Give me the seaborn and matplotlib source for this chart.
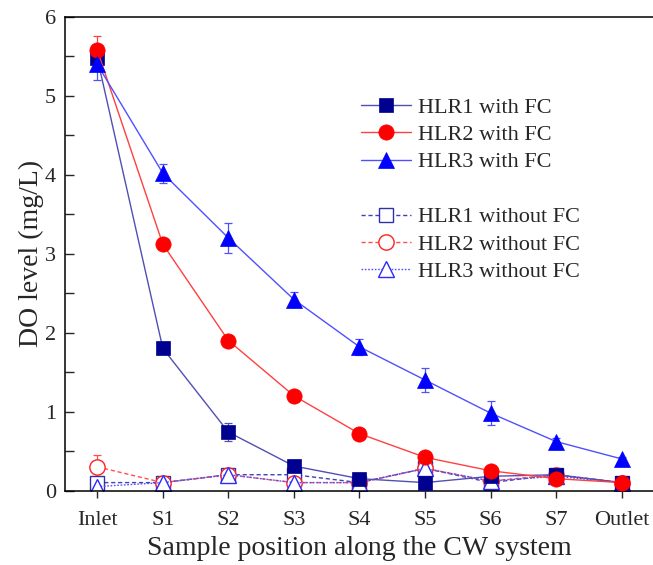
import numpy as np
import pandas as pd
import matplotlib
matplotlib.use("Agg")
import matplotlib.pyplot as plt
from matplotlib.lines import Line2D
import seaborn as sns

# ---------------- data ----------------
positions = ["Inlet", "S1", "S2", "S3", "S4", "S5", "S6", "S7", "Outlet"]

hlr1_fc = [5.48, 1.80, 0.74, 0.31, 0.15, 0.10, 0.18, 0.20, 0.10]
hlr2_fc = [5.58, 3.12, 1.90, 1.20, 0.72, 0.42, 0.25, 0.15, 0.10]
hlr3_fc = [5.40, 4.02, 3.20, 2.42, 1.82, 1.40, 0.98, 0.62, 0.40]

hlr1_nofc = [0.10, 0.10, 0.20, 0.20, 0.10, 0.28, 0.10, 0.20, 0.10]
hlr2_nofc = [0.30, 0.10, 0.20, 0.10, 0.10, 0.28, 0.12, 0.20, 0.10]
hlr3_nofc = [0.05, 0.10, 0.20, 0.10, 0.10, 0.28, 0.12, 0.18, 0.10]

hlr1_fc_err = [0.10, 0.06, 0.11, 0.04, 0.03, 0.02, 0.03, 0.03, 0.02]
hlr2_fc_err = [0.18, 0.03, 0.07, 0.04, 0.03, 0.03, 0.03, 0.03, 0.02]
hlr3_fc_err = [0.20, 0.12, 0.19, 0.10, 0.10, 0.15, 0.15, 0.05, 0.03]

hlr1_nofc_err = [0.05, 0.03, 0.04, 0.04, 0.03, 0.04, 0.03, 0.04, 0.03]
hlr2_nofc_err = [0.15, 0.03, 0.04, 0.03, 0.03, 0.04, 0.03, 0.04, 0.03]
hlr3_nofc_err = [0.03, 0.03, 0.04, 0.03, 0.03, 0.04, 0.03, 0.04, 0.03]

labels = ["HLR1 with FC", "HLR2 with FC", "HLR3 with FC",
          "HLR1 without FC", "HLR2 without FC", "HLR3 without FC"]

# ---------------- style ----------------
sns.set_style("ticks")
plt.rcParams["font.family"] = ["Liberation Serif", "DejaVu Serif"]

fig = plt.figure(figsize=(6.53, 5.65), dpi=100)
W, H = 653, 565
ax = fig.add_axes([64.5 / W, 1 - 490.5 / H, (654.5 - 64.5) / W, (490.5 - 17) / H])

x = np.arange(len(positions))

styles = [
    dict(vals=hlr1_fc, err=hlr1_fc_err, line="#5050b4", mc="#000090", mfc="#000090",
         marker="s", ms=10, dashes=None),
    dict(vals=hlr2_fc, err=hlr2_fc_err, line="#ff4040", mc="#ff0000", mfc="#ff0000",
         marker="o", ms=11, dashes=None),
    dict(vals=hlr3_fc, err=hlr3_fc_err, line="#5050ff", mc="#0000ff", mfc="#0000ff",
         marker="^", ms=12, dashes=None),
    dict(vals=hlr1_nofc, err=hlr1_nofc_err, line="#4040b8", mc="#3030a8", mfc="white",
         marker="s", ms=9.5, dashes=(3, 2)),
    dict(vals=hlr2_nofc, err=hlr2_nofc_err, line="#ff5050", mc="#ff2020", mfc="white",
         marker="o", ms=11, dashes=(3, 2)),
    dict(vals=hlr3_nofc, err=hlr3_nofc_err, line="#5050ff", mc="#2a2aff", mfc="white",
         marker="^", ms=11, dashes=(1.2, 1.2)),
]

handles = []
for i, st in enumerate(styles):
    df = pd.DataFrame({"pos": x, "DO": st["vals"]})
    z = 3 if i < 3 else 2
    ax.errorbar(x, st["vals"], yerr=st["err"], fmt="none", ecolor=st["line"],
                elinewidth=0.9, capsize=3.2, capthick=0.9, zorder=z)
    lkw = dict(color=st["line"], lw=1.0, marker=st["marker"], markersize=st["ms"],
               markerfacecolor=st["mfc"], markeredgecolor=st["mc"],
               markeredgewidth=1.0 if i >= 3 else 0.5, zorder=z + 0.5)
    if st["dashes"] is not None:
        lkw["dashes"] = st["dashes"]
    sns.lineplot(data=df, x="pos", y="DO", ax=ax, **lkw)
    hk = dict(color=st["line"], lw=1.0, marker=st["marker"], markersize=st["ms"],
              markerfacecolor=st["mfc"], markeredgecolor=st["mc"],
              markeredgewidth=1.0 if i >= 3 else 0.5)
    if st["dashes"] is not None:
        hk["dashes"] = st["dashes"]
    handles.append(Line2D([0], [0], **hk))

# legend with a blank row between the two groups
blank = Line2D([0], [0], color="none", marker=None)
leg_handles = handles[:3] + [blank] + handles[3:]
leg_labels = labels[:3] + [""] + labels[3:]
leg = fig.legend(leg_handles, leg_labels, loc="upper left",
                 bbox_to_anchor=(361 / W, 1 - 97 / H), frameon=False,
                 fontsize=16, handlelength=2.25, handletextpad=0.3,
                 labelspacing=0.31, borderpad=0, borderaxespad=0)

ax.set_xlim(-0.5, 8.5)
ax.set_ylim(0, 6)
ax.set_xticks(x)
ax.set_xticklabels(positions)
ax.set_yticks(np.arange(0, 6.01, 1))
ax.set_yticks(np.arange(0.5, 6, 1), minor=True)

ax.tick_params(axis="y", which="both", direction="in", length=6.5, width=1.0,
               labelsize=16, pad=6, right=False)
ax.tick_params(axis="x", which="major", direction="out", length=5, width=1.0,
               labelsize=16, pad=10, top=False)
ax.tick_params(axis="x", which="minor", bottom=False)

for s in ["left", "bottom", "top"]:
    ax.spines[s].set_linewidth(1.1)
    ax.spines[s].set_color("black")
ax.spines["right"].set_visible(False)

ax.set_xlabel("Sample position along the CW system", fontsize=20, labelpad=4)
ax.set_ylabel("DO level (mg/L)", fontsize=20, labelpad=1)

fig.savefig("out.png", dpi=100)
